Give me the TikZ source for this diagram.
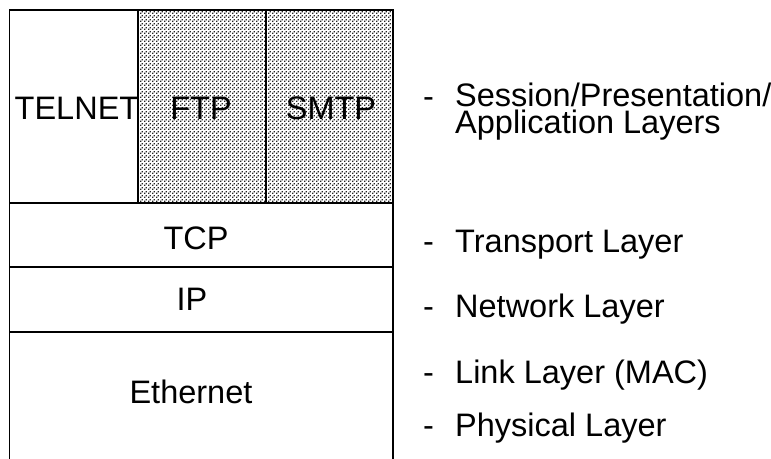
\documentclass[tikz,border=0pt]{standalone}
\usepackage{fontspec}
\setmainfont{Liberation Sans}
\usetikzlibrary{patterns.meta}
\tikzdeclarepattern{name=stipple, type=uncolored,
  bounding box={(0,0) and (4pt,4pt)}, tile size={(4pt,4pt)},
  code={\fill (0pt,0pt) rectangle (1.7pt,1.7pt);
        \fill (2pt,2pt) rectangle (3.7pt,3.7pt);}}
\begin{document}
\begin{tikzpicture}[x=1pt,y=-1pt,
  boxline/.style={line width=1.7pt, line cap=rect},
  lbl/.style={font=\fontsize{32.5}{32.5}\selectfont, inner sep=0pt, anchor=base},
  rlbl/.style={font=\fontsize{32.5}{27}\selectfont, inner sep=0pt, anchor=base west}]
\fill[white] (0,0) rectangle (771,458);
\useasboundingbox (0,0) rectangle (771,458);
% shaded application boxes
\fill[pattern={stipple}, pattern color=black!85] (138,10) rectangle (393,203);
% coordinates
\coordinate (tl) at (9.5,10);
\coordinate (tr) at (393,10);
\coordinate (bl) at (9.5,458);
\coordinate (br) at (393,458);
\coordinate (a1t) at (138,10);
\coordinate (a1b) at (138,203);
\coordinate (a2t) at (266,10);
\coordinate (a2b) at (266,203);
\coordinate (h1l) at (9.5,203);
\coordinate (h1r) at (393,203);
\coordinate (h2l) at (9.5,267);
\coordinate (h2r) at (393,267);
\coordinate (h3l) at (9.5,332);
\coordinate (h3r) at (393,332);
% frame
\draw[boxline] (bl) -- (tl) -- (tr) -- (br);
\draw[boxline] (a1t) -- (a1b);
\draw[boxline] (a2t) -- (a2b);
\draw[boxline] (h1l) -- (h1r);
\draw[boxline] (h2l) -- (h2r);
\draw[boxline] (h3l) -- (h3r);
% box labels
\node[lbl] (telnet) at (77,119) {TELNET};
\node[lbl] (ftp) at (201,119) {FTP};
\node[lbl] (smtp) at (331,119) {SMTP};
\node[lbl] (tcp) at (196,249) {TCP};
\node[lbl] (ip) at (192,310) {IP};
\node[lbl] (eth) at (191,403) {Ethernet};
% layer labels
\node[rlbl] (d1) at (423,107) {-};
\node[rlbl, align=left] (sess) at (455,133) {Session/Presentation/\\Application Layers};
\node[rlbl] (d2) at (423,252) {-};
\node[rlbl] (trans) at (455,252) {Transport Layer};
\node[rlbl] (d3) at (423,317) {-};
\node[rlbl] (netw) at (455,317) {Network Layer};
\node[rlbl] (d4) at (423,383) {-};
\node[rlbl] (link) at (455,383) {Link Layer (MAC)};
\node[rlbl] (d5) at (423,436) {-};
\node[rlbl] (phys) at (455,436) {Physical Layer};
\end{tikzpicture}
\end{document}
